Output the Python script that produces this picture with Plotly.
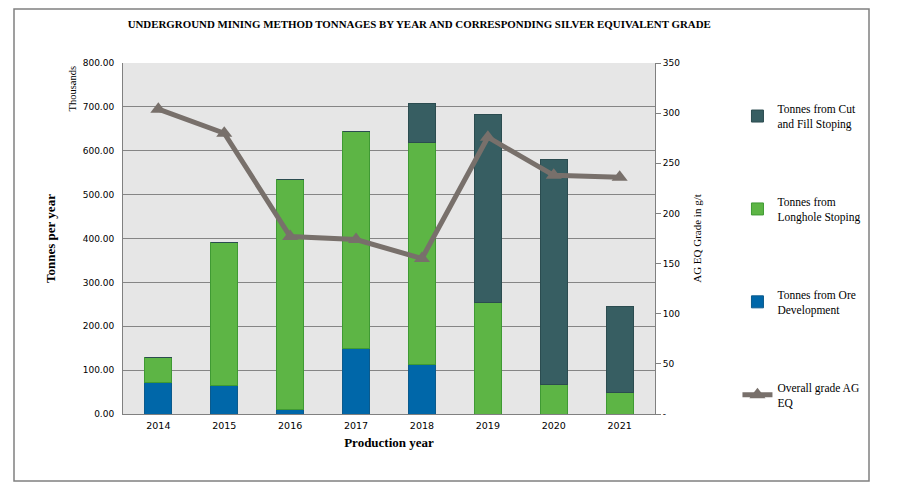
import plotly.graph_objects as go

years = ["2014", "2015", "2016", "2017", "2018", "2019", "2020", "2021"]
ore_dev = [72, 65, 11, 149, 112, 0, 0, 0]
longhole = [56, 326, 524, 496, 507, 254, 68, 48]
cut_fill = [0, 0, 0, 0, 88, 429, 511, 197]
grade = [304, 280, 177, 174, 155, 276, 238, 236]

left_ticks = [0, 100, 200, 300, 400, 500, 600, 700, 800]
left_labels = [f"{v:.2f}" for v in left_ticks]
right_ticks = [0, 50, 100, 150, 200, 250, 300, 350]
right_labels = ["-"] + [str(v) for v in right_ticks[1:]]

serif = "Liberation Serif"
sans = "DejaVu Sans"

fig = go.Figure()
fig.add_bar(x=years, y=ore_dev, name="Tonnes from Ore<br>Development",
            marker=dict(color="#0067a9", line=dict(color="#0b5a8c", width=1)),
            legendrank=3, legendgroup="c")
fig.add_bar(x=years, y=longhole, name="Tonnes from<br>Longhole Stoping",
            marker=dict(color="#5db545", line=dict(color="#3f9a33", width=1)),
            legendrank=2, legendgroup="b")
fig.add_bar(x=years, y=cut_fill, name="Tonnes from Cut<br>and Fill Stoping",
            marker=dict(color="#375e62", line=dict(color="#2b4c50", width=1)),
            legendrank=1, legendgroup="a")
fig.add_scatter(x=years, y=grade, yaxis="y2", name="Overall grade AG<br>EQ",
                mode="lines+markers",
                line=dict(color="#78706b", width=5),
                marker=dict(symbol="triangle-up", size=14, color="#78706b"),
                legendrank=4, legendgroup="d")

# page body has an 8px offset; plot area sits at x 123-655, y 63-414 in the window
fig.update_layout(
    width=892, height=490,
    paper_bgcolor="white",
    plot_bgcolor="#e6e6e6",
    barmode="stack",
    bargap=0.59,
    margin=dict(l=115, r=245, t=55, b=84),
    font=dict(family=sans, size=9, color="#000"),
    title=dict(text="<b>UNDERGROUND MINING METHOD TONNAGES BY YEAR AND CORRESPONDING SILVER EQUIVALENT GRADE</b>",
               x=0.461, xanchor="center", y=0.967, yanchor="middle",
               font=dict(family=serif, size=10.9, color="#000")),
    xaxis=dict(showgrid=False, showline=True, linecolor="#808080", linewidth=1,
               ticks="", tickfont=dict(family=sans, size=9.5), ticklabelstandoff=3,
               title=dict(text="<b>Production year</b>", font=dict(family=serif, size=13), standoff=7)),
    yaxis=dict(range=[0, 800], tickvals=left_ticks, ticktext=left_labels,
               showgrid=True, gridcolor="#858585", gridwidth=1,
               showline=True, linecolor="#808080", linewidth=1,
               ticks="", tickfont=dict(family=sans, size=9), zeroline=False,
               ticklabelstandoff=6,
               title=dict(text="<b>Tonnes per year</b>", font=dict(family=serif, size=13), standoff=24)),
    yaxis2=dict(range=[0, 350], tickvals=right_ticks, ticktext=right_labels,
                overlaying="y", side="right", showgrid=False,
                showline=True, linecolor="#808080", linewidth=1,
                ticks="outside", ticklen=5, tickcolor="#808080",
                tickfont=dict(family=sans, size=9), zeroline=False,
                title=dict(text="AG EQ Grade in g/t", font=dict(family=serif, size=11), standoff=14)),
    legend=dict(x=1.155, xanchor="left", y=0.91, yanchor="top",
                traceorder="grouped", tracegroupgap=60,
                font=dict(family=serif, size=11.5), bgcolor="rgba(0,0,0,0)",
                itemwidth=30),
    showlegend=True,
)

fig.add_annotation(text="Thousands", xref="paper", yref="paper", x=-0.095, y=1.0,
                   xanchor="center", yanchor="top", textangle=-90, showarrow=False,
                   font=dict(family=serif, size=10.5))

fig.add_shape(type="rect", xref="paper", yref="paper",
              x0=(14 - 123) / 532, x1=(869 - 123) / 532,
              y0=(414 - 481) / 351, y1=(414 - 9) / 351,
              line=dict(color="#808080", width=1.5), fillcolor="rgba(0,0,0,0)", layer="below")

fig.write_html("out.html")
